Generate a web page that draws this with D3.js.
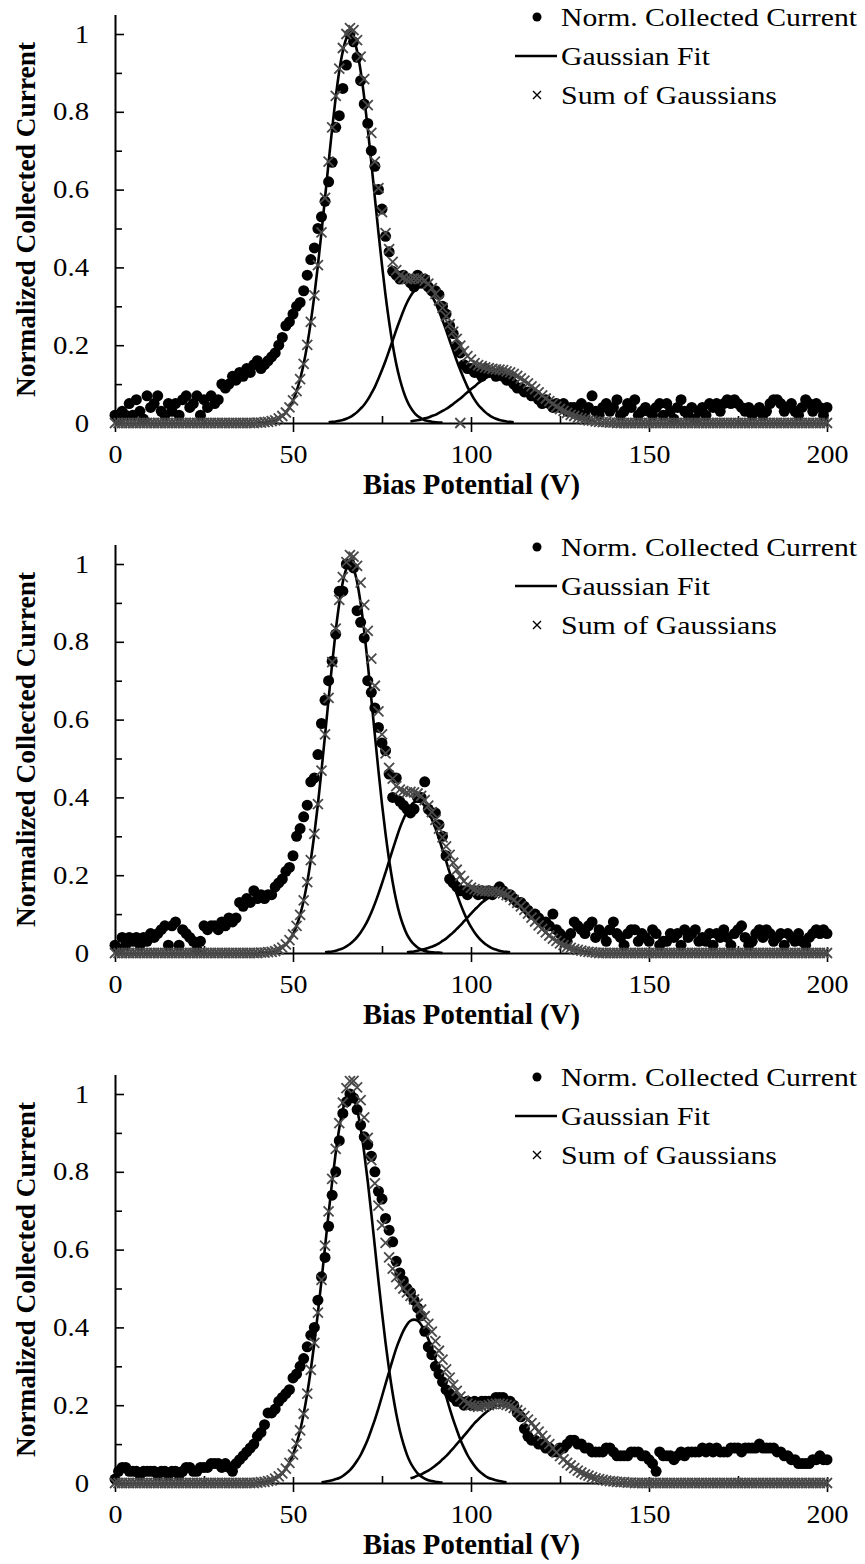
<!DOCTYPE html>
<html>
<head>
<meta charset="utf-8">
<script src="https://cdn.jsdelivr.net/npm/d3@7"></script>
<style>
	html, body { margin: 0; padding: 0; background: #fff; }
	svg { display: block; }
</style>
</head>
<body>
<div id="chart"></div>
<script>

// DATA
// bias potential grid, 1 V steps from 0 to 200 V
const bias = d3.range(0, 201);

const xTicks = [0, 50, 100, 150, 200];
const xMinorTicks = [25, 75, 125, 175];
const yTicks = [0, 0.2, 0.4, 0.6, 0.8, 1];
const yMinorTicks = [0.1, 0.3, 0.5, 0.7, 0.9];
const legendLabels = ["Norm. Collected Current", "Gaussian Fit", "Sum of Gaussians"];

// normalized collected current, panel 1
const current1 = [
	.02,.01,.03,.02,.05,.02,.06,.03,.01,.07,
	.04,.05,.07,.03,.02,.05,.03,.05,.02,.06,
	.07,.04,.05,.07,.02,.06,.04,.07,.05,.06,
	.10,.09,.10,.12,.11,.13,.12,.14,.13,.15,
	.16,.14,.15,.16,.17,.18,.20,.22,.25,.26,
	.28,.30,.31,.34,.38,.42,.45,.50,.53,.57,
	.62,.67,.76,.79,.86,.92,1.00,.98,.94,.88,
	.82,.77,.70,.66,.60,.55,.48,.44,.39,.38,
	.37,.38,.37,.36,.35,.38,.36,.37,.35,.34,
	.34,.33,.30,.28,.25,.23,.20,.18,.15,.14,
	.14,.13,.13,.12,.14,.13,.13,.12,.13,.12,
	.11,.11,.10,.09,.09,.08,.08,.07,.07,.06,
	.05,.06,.05,.04,.05,.04,.05,.03,.04,.04,
	.03,.05,.02,.04,.07,.03,.02,.04,.05,.03,
	.04,.06,.02,.03,.05,.04,.06,.02,.03,.04,
	.03,.02,.04,.05,.02,.05,.03,.01,.04,.06,
	.03,.02,.04,.01,.03,.04,.02,.05,.04,.05,
	.03,.05,.06,.05,.06,.05,.04,.03,.04,.02,
	.03,.04,.02,.03,.05,.06,.06,.05,.03,.04,
	.05,.03,.02,.04,.06,.05,.03,.05,.04,.02,
	.04
];
// sum of the three gaussians, panel 1
const sum1 = [
	0,0,0,0,0,0,0,0,0,0, 0,0,0,0,0,0,0,0,0,0,
	0,0,0,0,0,0,0,0,0,0, 0,0,0,0,0,0,0,0,0,0,
	.001,.001,.002,.003,.005,.007,.012,.018,.027,.040,
	.058,.082,.113,.152,.201,.260,.328,.406,.490,.579,
	.672,.760,.841,.911,.964,1.000,1.015,1.010,.984,.942,
	.884,.817,.746,.672,.604,.542,.488,.447,.414,.393,
	.379,.373,.370,.370,.372,.372,.371,.366,.358,.347,
	.332,.315,.296,.275,.254,.235,.216,.199,.185,.172,
	.163,.154,.149,.146,.143,.141,.139,.138,.137,.136,
	.133,.130,.126,.121,.115,.109,.102,.094,.087,.079,
	.071,.063,.056,.049,.042,.036,.031,.026,.021,.018,
	.014,.012,.009,.007,.006,.004,.003,.002,.002,.001,
	.001,0,0,0,0,0,0,0,0,0, 0,0,0,0,0,0,0,0,0,0,
	0,0,0,0,0,0,0,0,0,0, 0,0,0,0,0,0,0,0,0,0,
	0,0,0,0,0,0,0,0,0,0, 0,0,0,0,0,0,0,0,0,0,
	0
];
// one stray sum marker sitting on the axis
const sumStray1 = [[97, 0]];
// individual gaussian fits: start voltage and values in 1 V steps
const fitStart1 = [40, 60, 83];
const fit1a = [.001,.001,.002,.003,.005,.007,.012,.018,.027,.040,.058,.082,.113,.152,.201,.260,.328,.406,.490,.579,.670,.757,.837,.905,.956,.989,1.000,.989,.956,.905,.837,.757,.670,.579,.490,.406,.328,.260,.201,.152,.113,.082,.058,.040,.027,.018,.012,.007,.005,.003,.002,.001,.001];
const fit1b = [.002,.003,.004,.006,.008,.011,.015,.021,.028,.037,.047,.060,.076,.093,.114,.136,.160,.186,.212,.239,.264,.288,.309,.326,.339,.347,.350,.347,.339,.326,.309,.288,.264,.239,.212,.186,.160,.136,.114,.093,.076,.060,.047,.037,.028,.021,.015,.011,.008,.006,.004,.003,.002];
const fit1c = [.004,.006,.007,.009,.012,.014,.018,.021,.026,.031,.036,.042,.049,.056,.063,.071,.079,.087,.094,.102,.109,.115,.120,.124,.127,.129,.130,.129,.127,.124,.120,.115,.109,.102,.094,.087,.079,.071,.063,.056,.049,.042,.036,.031,.026,.021,.018,.014,.012,.009,.007,.006,.004];

// panel 2
const current2 = [
	.02,.01,.04,.02,.04,.03,.04,.02,.04,.03,
	.05,.04,.05,.06,.07,.02,.07,.08,.02,.06,
	.05,.04,.03,.01,.03,.07,.06,.07,.07,.06,
	.08,.07,.09,.08,.09,.13,.12,.14,.13,.16,
	.14,.15,.14,.15,.15,.17,.18,.19,.21,.22,
	.25,.30,.32,.35,.38,.44,.45,.51,.59,.65,
	.70,.75,.82,.93,.93,1.00,1.00,.99,.88,.85,
	.81,.70,.67,.63,.58,.54,.52,.46,.40,.45,
	.39,.38,.37,.36,.37,.40,.40,.44,.37,.36,
	.36,.33,.30,.25,.19,.18,.17,.16,.16,.15,
	.16,.16,.15,.16,.15,.16,.15,.16,.17,.16,
	.15,.15,.14,.13,.13,.12,.11,.10,.10,.09,
	.08,.08,.07,.10,.06,.05,.04,.03,.05,.08,
	.07,.06,.05,.07,.08,.04,.06,.05,.03,.06,
	.08,.05,.04,.02,.05,.06,.06,.03,.05,.04,
	.03,.06,.05,.02,.03,.03,.05,.04,.05,.02,
	.06,.04,.05,.06,.03,.04,.03,.05,.02,.05,
	.04,.06,.04,.02,.05,.06,.07,.04,.02,.03,
	.05,.06,.04,.06,.05,.03,.04,.05,.02,.05,
	.04,.03,.05,.03,.02,.04,.05,.06,.05,.06,
	.05
];
const sum2 = [
	0,0,0,0,0,0,0,0,0,0, 0,0,0,0,0,0,0,0,0,0,
	0,0,0,0,0,0,0,0,0,0, 0,0,0,0,0,0,0,0,0,0,
	0,.001,.001,.002,.003,.005,.009,.014,.022,.033,
	.048,.070,.098,.135,.182,.239,.306,.383,.469,.562,
	.656,.748,.834,.908,.966,1.005,1.023,1.019,.995,.952,
	.895,.828,.757,.687,.621,.562,.513,.476,.448,.429,
	.420,.416,.413,.414,.413,.410,.404,.393,.379,.362,
	.342,.320,.297,.274,.252,.232,.214,.198,.185,.175,
	.168,.164,.161,.160,.159,.159,.158,.158,.156,.153,
	.149,.144,.136,.129,.120,.111,.101,.091,.081,.071,
	.062,.053,.045,.037,.031,.025,.020,.016,.013,.010,
	.008,.006,.004,.003,.002,.001,0,0,0,0,
	0,0,0,0,0,0,0,0,0,0, 0,0,0,0,0,0,0,0,0,0,
	0,0,0,0,0,0,0,0,0,0, 0,0,0,0,0,0,0,0,0,0,
	0,0,0,0,0,0,0,0,0,0, 0,0,0,0,0,0,0,0,0,0,
	0
];
const sumStray2 = [];
const fitStart2 = [40, 59, 82];
const fit2a = [0,.001,.001,.002,.003,.005,.009,.014,.022,.033,.048,.070,.098,.135,.182,.239,.306,.383,.469,.560,.653,.744,.828,.899,.954,.988,1.000,.988,.954,.899,.828,.744,.653,.560,.469,.383,.306,.239,.182,.135,.098,.070,.048,.033,.022,.014,.009,.005,.003,.002,.001,.001,0];
const fit2b = [.002,.003,.004,.006,.009,.012,.017,.023,.031,.041,.053,.067,.084,.104,.127,.152,.179,.207,.237,.266,.294,.321,.344,.363,.378,.387,.390,.387,.378,.363,.344,.321,.294,.266,.237,.207,.179,.152,.127,.104,.084,.067,.053,.041,.031,.023,.017,.012,.009,.006,.004,.003,.002];
const fit2c = [.002,.003,.004,.006,.008,.010,.013,.016,.020,.025,.031,.037,.045,.053,.062,.071,.081,.091,.101,.111,.120,.129,.136,.142,.146,.149,.150,.149,.146,.142,.136,.129,.120,.111,.101,.091,.081,.071,.062,.053,.045,.037,.031,.025,.020,.016,.013,.010,.008,.006,.004,.003,.002];

// panel 3
const current3 = [
	.01,.03,.04,.04,.03,.03,.03,.02,.03,.03,
	.03,.03,.02,.03,.03,.02,.03,.03,.02,.03,
	.04,.04,.03,.03,.04,.04,.04,.05,.05,.05,
	.04,.05,.04,.03,.05,.06,.07,.08,.09,.10,
	.12,.13,.15,.18,.18,.19,.21,.22,.23,.24,
	.27,.28,.30,.32,.35,.38,.40,.47,.53,.58,
	.66,.74,.80,.88,.95,.98,1.00,.99,.96,.92,
	.89,.87,.84,.80,.75,.73,.68,.65,.62,.57,
	.54,.52,.50,.49,.47,.45,.43,.39,.35,.33,
	.30,.28,.26,.24,.23,.22,.21,.21,.20,.21,
	.20,.21,.20,.21,.21,.21,.21,.22,.22,.22,
	.21,.21,.20,.18,.17,.14,.12,.11,.11,.10,
	.10,.09,.09,.08,.08,.09,.09,.10,.11,.11,
	.10,.10,.09,.09,.08,.08,.08,.08,.09,.09,
	.08,.07,.07,.07,.07,.08,.08,.08,.07,.07,
	.06,.05,.03,.08,.07,.07,.07,.06,.07,.08,
	.07,.08,.08,.08,.08,.09,.08,.09,.08,.09,
	.08,.08,.08,.09,.09,.09,.08,.09,.09,.09,
	.09,.10,.09,.09,.09,.09,.08,.08,.07,.07,
	.06,.06,.05,.05,.05,.05,.06,.06,.07,.06,
	.06
];
const sum3 = [
	0,0,0,0,0,0,0,0,0,0, 0,0,0,0,0,0,0,0,0,0,
	0,0,0,0,0,0,0,0,0,0, 0,0,0,0,0,0,0,0,0,0,
	.001,.002,.003,.005,.007,.011,.017,.025,.037,.052,
	.073,.101,.135,.178,.230,.291,.360,.438,.522,.610,
	.698,.782,.859,.925,.978,1.015,1.033,1.034,1.017,.984,
	.940,.887,.830,.770,.713,.663,.617,.580,.551,.529,
	.511,.500,.490,.481,.472,.461,.446,.429,.409,.389,
	.365,.340,.317,.292,.271,.252,.237,.222,.212,.204,
	.200,.198,.196,.197,.198,.200,.203,.204,.204,.203,
	.201,.198,.193,.187,.180,.172,.163,.154,.143,.132,
	.121,.110,.100,.089,.079,.069,.061,.052,.045,.038,
	.032,.027,.022,.019,.015,.012,.010,.008,.006,.005,
	.004,.003,.002,.002,.001,.001,0,0,0,0,
	0,0,0,0,0,0,0,0,0,0, 0,0,0,0,0,0,0,0,0,0,
	0,0,0,0,0,0,0,0,0,0, 0,0,0,0,0,0,0,0,0,0,
	0,0,0,0,0,0,0,0,0,0, 0
];
const sumStray3 = [];
const fitStart3 = [40, 58, 83];
const fit3a = [.001,.002,.003,.005,.007,.011,.017,.025,.037,.052,.073,.101,.135,.178,.230,.291,.360,.438,.520,.607,.693,.775,.849,.912,.960,.990,1.000,.990,.960,.912,.849,.775,.693,.607,.520,.438,.360,.291,.230,.178,.135,.101,.073,.052,.037,.025,.017,.011,.007,.005,.003,.002,.001];
const fit3b = [.002,.003,.005,.007,.010,.013,.018,.025,.033,.044,.057,.072,.091,.112,.137,.163,.192,.223,.255,.286,.317,.346,.370,.391,.407,.417,.420,.417,.407,.391,.370,.346,.317,.286,.255,.223,.192,.163,.137,.112,.091,.072,.057,.044,.033,.025,.018,.013,.010,.007,.005,.003,.002];
const fit3c = [.012,.015,.019,.022,.027,.032,.038,.045,.052,.061,.069,.079,.089,.100,.110,.121,.132,.143,.154,.163,.172,.180,.187,.193,.197,.199,.200,.199,.197,.193,.187,.180,.172,.163,.154,.143,.132,.121,.110,.100,.089,.079,.069,.061,.052,.045,.038,.032,.027,.022,.019,.015,.012];


const panels = [
	{ current: current1, sum: sum1, stray: sumStray1, fitStart: fitStart1, fits: [fit1a, fit1b, fit1c] },
	{ current: current2, sum: sum2, stray: sumStray2, fitStart: fitStart2, fits: [fit2a, fit2b, fit2c] },
	{ current: current3, sum: sum3, stray: sumStray3, fitStart: fitStart3, fits: [fit3a, fit3b, fit3c] }
];


// SVG DIMENSIONS
const width = 865;
const height = 1564;
const panelStep = 530;
const serif = "'Liberation Serif', 'Times New Roman', Times, serif";
const svg = d3.select("#chart")
	.append("svg")
	.attr("width", width)
	.attr("height", height)
	.style("font-family", serif);
svg.append("rect").attr("width", width).attr("height", height).attr("fill", "#fff");

const x = d3.scaleLinear().domain([0, 200]).range([115, 827]);
const crossPath = s => `M${-s},${-s}L${s},${s}M${-s},${s}L${s},${-s}`;


// DRAW each panel
panels.forEach((p, i) => {
	const top = i * panelStep;
	const y = d3.scaleLinear().domain([0, 1.05]).range([423 + top, 14.55 + top]);
	const g = svg.append("g").attr("class", "panel");

	// x axis: major ticks cross the line, minor ticks point up
	const xAxis = g.append("g")
		.attr("transform", `translate(0,${y(0)})`)
		.call(d3.axisBottom(x).tickValues(xTicks).tickSizeOuter(0).tickFormat(d3.format("d")))
		.attr("font-family", null).attr("font-size", null);
	xAxis.select(".domain").attr("stroke", "#000").attr("stroke-width", 2);
	xAxis.selectAll(".tick line").attr("y1", -6).attr("y2", 9).attr("stroke-width", 1.6);
	xAxis.selectAll(".tick text")
		.attr("y", 40).attr("dy", null)
		.attr("transform", "scale(1.12,1)")
		.attr("fill", "#000")
		.style("font-family", serif)
		.style("font-size", "25px");
	g.append("g")
		.attr("transform", `translate(0,${y(0)})`)
		.call(d3.axisTop(x).tickValues(xMinorTicks).tickSize(7).tickSizeOuter(0).tickFormat(""))
		.call(s => s.select(".domain").remove())
		.selectAll("line").attr("stroke-width", 1.6);

	// y axis: ticks point inward
	const yAxis = g.append("g")
		.attr("transform", `translate(${x(0)},0)`)
		.call(d3.axisLeft(y).tickValues(yTicks).tickSize(-9).tickSizeOuter(0).tickPadding(22.6)
			.tickFormat(d => d === 0 || d === 1 ? d3.format("d")(d) : d3.format(".1f")(d)))
		.attr("font-family", null).attr("font-size", null);
	yAxis.select(".domain").attr("stroke", "#000").attr("stroke-width", 2);
	yAxis.selectAll(".tick line").attr("stroke-width", 1.6);
	yAxis.selectAll(".tick text")
		.attr("transform", "scale(1.15,1)")
		.attr("fill", "#000")
		.style("font-family", serif)
		.style("font-size", "25px");
	g.append("g")
		.attr("transform", `translate(${x(0)},0)`)
		.call(d3.axisLeft(y).tickValues(yMinorTicks).tickSize(-7).tickSizeOuter(0).tickFormat(""))
		.call(s => s.select(".domain").remove())
		.selectAll("line").attr("stroke-width", 1.6);

	// axis titles
	g.append("text")
		.attr("x", 471.5).attr("y", 494 + top)
		.attr("text-anchor", "middle")
		.attr("textLength", 217).attr("lengthAdjust", "spacingAndGlyphs")
		.style("font-family", serif)
		.style("font-size", "29px").style("font-weight", "bold")
		.text("Bias Potential (V)");
	g.append("text")
		.attr("transform", `translate(35,${219.5 + top}) rotate(-90)`)
		.attr("text-anchor", "middle")
		.attr("textLength", 355).attr("lengthAdjust", "spacingAndGlyphs")
		.style("font-family", serif)
		.style("font-size", "28px").style("font-weight", "bold")
		.text("Normalized Collected Current");

	// measured current
	g.append("g")
		.selectAll("circle")
		.data(p.current)
		.join("circle")
			.attr("cx", (d, j) => x(bias[j]))
			.attr("cy", d => y(d))
			.attr("r", 5.5)
			.attr("fill", "#000");

	// individual gaussian fits
	const line = d3.line().curve(d3.curveMonotoneX);
	p.fits.forEach((vals, k) => {
		g.append("path")
			.attr("d", line(vals.map((v, j) => [x(p.fitStart[k] + j), y(v)])))
			.attr("fill", "none")
			.attr("stroke", "#000")
			.attr("stroke-width", 2.6);
	});

	// sum of gaussians
	const sumPts = p.sum.map((v, j) => [bias[j], v]).concat(p.stray);
	g.append("g")
		.selectAll("path")
		.data(sumPts)
		.join("path")
			.attr("transform", d => `translate(${x(d[0])},${y(d[1])})`)
			.attr("d", crossPath(5))
			.attr("fill", "none")
			.attr("stroke", "#4a4a4a")
			.attr("stroke-width", 1.8);

	// legend
	const lg = g.append("g");
	const rows = [17 + top, 56 + top, 95 + top];
	lg.append("circle").attr("cx", 537).attr("cy", rows[0]).attr("r", 4.5).attr("fill", "#000");
	lg.append("line").attr("x1", 515).attr("x2", 557).attr("y1", rows[1]).attr("y2", rows[1])
		.attr("stroke", "#000").attr("stroke-width", 2.5);
	lg.append("path").attr("transform", `translate(537,${rows[2]})`).attr("d", crossPath(4))
		.attr("stroke", "#000").attr("stroke-width", 1.4);
	const lens = [296, 149, 216];
	legendLabels.forEach((t, k) => {
		lg.append("text")
			.attr("x", 561).attr("y", rows[k] + 8.5)
			.attr("textLength", lens[k]).attr("lengthAdjust", "spacingAndGlyphs")
			.style("font-family", serif)
			.style("font-size", "25px")
			.text(t);
	});
});
</script>
</body>
</html>
